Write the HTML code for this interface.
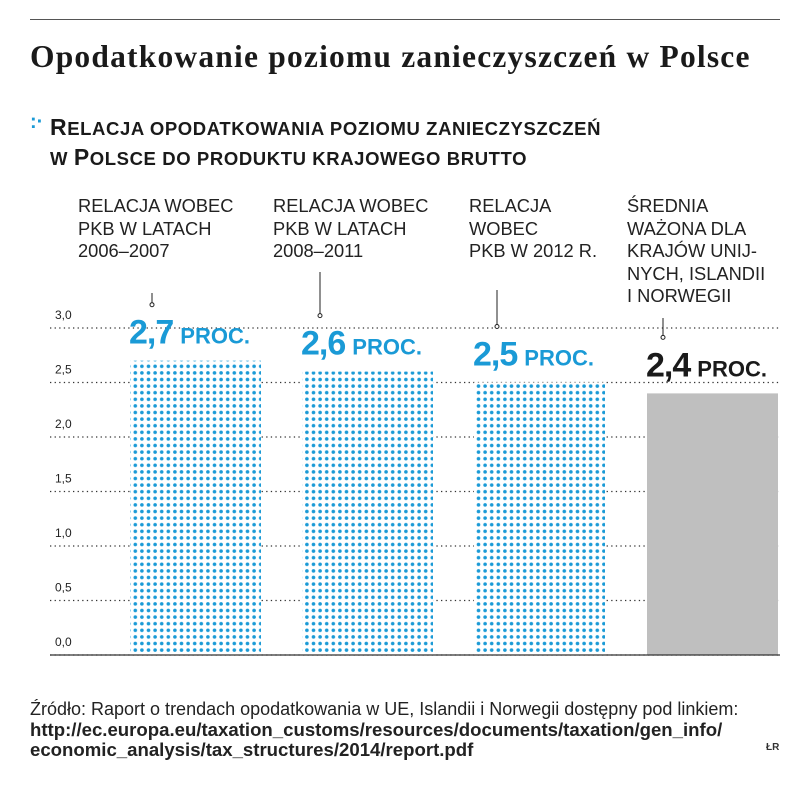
<!DOCTYPE html>
<html><head><meta charset="utf-8"><style>
body{margin:0;background:#fff;width:805px;height:785px;overflow:hidden;font-family:"Liberation Sans","DejaVu Sans",sans-serif;}
.t{position:absolute;white-space:nowrap;}
.sc{font-size:23px}
</style></head><body>
<div style="position:relative;width:805px;height:785px;">
<div style="position:absolute;left:30px;top:19px;width:750px;height:1px;background:#555"></div>
<div class="t" style="left:30px;top:39px;font-family:'Liberation Serif',serif;font-weight:bold;font-size:31.5px;letter-spacing:1.2px;color:#1a1a1a">Opodatkowanie poziomu zanieczyszczeń w Polsce</div>
<div class="t" style="left:30px;top:112px;color:#1a9ad6;font-size:20px;font-weight:bold;line-height:20px">:·</div>
<div class="t" style="left:50px;top:113px;font-weight:bold;font-size:18.5px;line-height:28px;color:#1a1a1a;text-transform:uppercase;letter-spacing:0.6px"><span class="sc">R</span>elacja opodatkowania poziomu zanieczyszczeń<br>w <span class="sc">P</span>olsce do produktu krajowego brutto</div>
<div class="t" style="left:78px;top:195px;font-size:18.3px;line-height:22.5px;color:#222">RELACJA WOBEC<br>PKB W LATACH<br>2006–2007</div>
<div class="t" style="left:273px;top:195px;font-size:18.3px;line-height:22.5px;color:#222">RELACJA WOBEC<br>PKB W LATACH<br>2008–2011</div>
<div class="t" style="left:469px;top:195px;font-size:18.3px;line-height:22.5px;color:#222">RELACJA<br>WOBEC<br>PKB W 2012 R.</div>
<div class="t" style="left:627px;top:195px;font-size:18.3px;line-height:22.5px;color:#222">ŚREDNIA<br>WAŻONA DLA<br>KRAJÓW UNIJ-<br>NYCH, ISLANDII<br>I NORWEGII</div>
<svg id="chart" width="805" height="785" style="position:absolute;left:0;top:0">
<defs><pattern id="dots" width="6.6" height="6.6" patternUnits="userSpaceOnUse"><circle cx="3.3" cy="3.3" r="1.8" fill="#1a9ad6"/></pattern></defs>
</svg>
<div class="t" style="left:30px;top:699px;font-size:18px;line-height:20.5px;color:#222">Źródło: Raport o trendach opodatkowania w UE, Islandii i Norwegii dostępny pod linkiem:<br><b style="font-size:18.6px">http://ec.europa.eu/taxation_customs/resources/documents/taxation/gen_info/<br>economic_analysis/tax_structures/2014/report.pdf</b></div>
<div class="t" style="left:766px;top:742px;font-size:10px;font-weight:bold;color:#333">ŁR</div>
</div>
<script>
const categories=["2006–2007","2008–2011","2012","EU avg"];
const values=[2.7,2.6,2.5,2.4];
const valueLabels=["2,7","2,6","2,5","2,4"];
const ticks=[0,0.5,1,1.5,2,2.5,3];
const tickLabels=["0,0","0,5","1,0","1,5","2,0","2,5","3,0"];
const svg=document.getElementById('chart');
const NS="http://www.w3.org/2000/svg";
const y0=655,yTop=328,vmax=3;
const y=v=>y0-(v/vmax)*(y0-yTop);
const barX=[130,302,474,647],barW=131;
const x=i=>barX[i];
function mk(tag,attrs){const e=document.createElementNS(NS,tag);for(const k in attrs)e.setAttribute(k,attrs[k]);svg.appendChild(e);return e;}
ticks.forEach((t,i)=>{
  const l=mk('line',{x1:50,x2:780,y1:y(t),y2:y(t),stroke:'#333','stroke-width':1.3,'stroke-dasharray':'1.3 3.3'});
  
  
  const tx=mk('text',{x:55,y:y(t)-9,'font-size':12,fill:'#222','font-family':'Liberation Sans, sans-serif'});
  tx.textContent=tickLabels[i];
  
  
});
const leader=[[152,293],[320,272],[497,290],[663,318]];
values.forEach((v,i)=>{
  const last=i===values.length-1;
  const bg=mk('rect',{x:x(i),y:y(v),width:barW,height:y0-y(v),fill:'#fff'});
  
  
  const r=mk('rect',{x:x(i),y:y(v),width:barW,height:y0-y(v),fill:last?'#bfbfbf':'url(#dots)'});
  
  
  const cx=leader[i][0],top=leader[i][1],bot=y(v)-56;
  const ln=mk('line',{x1:cx,x2:cx,y1:top,y2:bot-2,stroke:'#222','stroke-width':1});
  
  
  const c=mk('circle',{cx:cx,cy:bot,r:2,fill:'#fff',stroke:'#222','stroke-width':1});
  
  
  const t=mk('text',{x:x(i)-1,y:y(v)-17,fill:last?'#1a1a1a':'#1a9ad6','font-family':'Liberation Sans, sans-serif','font-weight':'bold'});
  
  
  const a=document.createElementNS(NS,'tspan');a.setAttribute('font-size',34);a.setAttribute('letter-spacing','-1');a.textContent=valueLabels[i];t.appendChild(a);
  const b=document.createElementNS(NS,'tspan');b.setAttribute('font-size',22);b.setAttribute('dx',7);b.textContent='PROC.';t.appendChild(b);
});
const ax=mk('line',{x1:50,x2:780,y1:y0,y2:y0,stroke:'#333','stroke-width':1.3});


</script>
</body></html>
